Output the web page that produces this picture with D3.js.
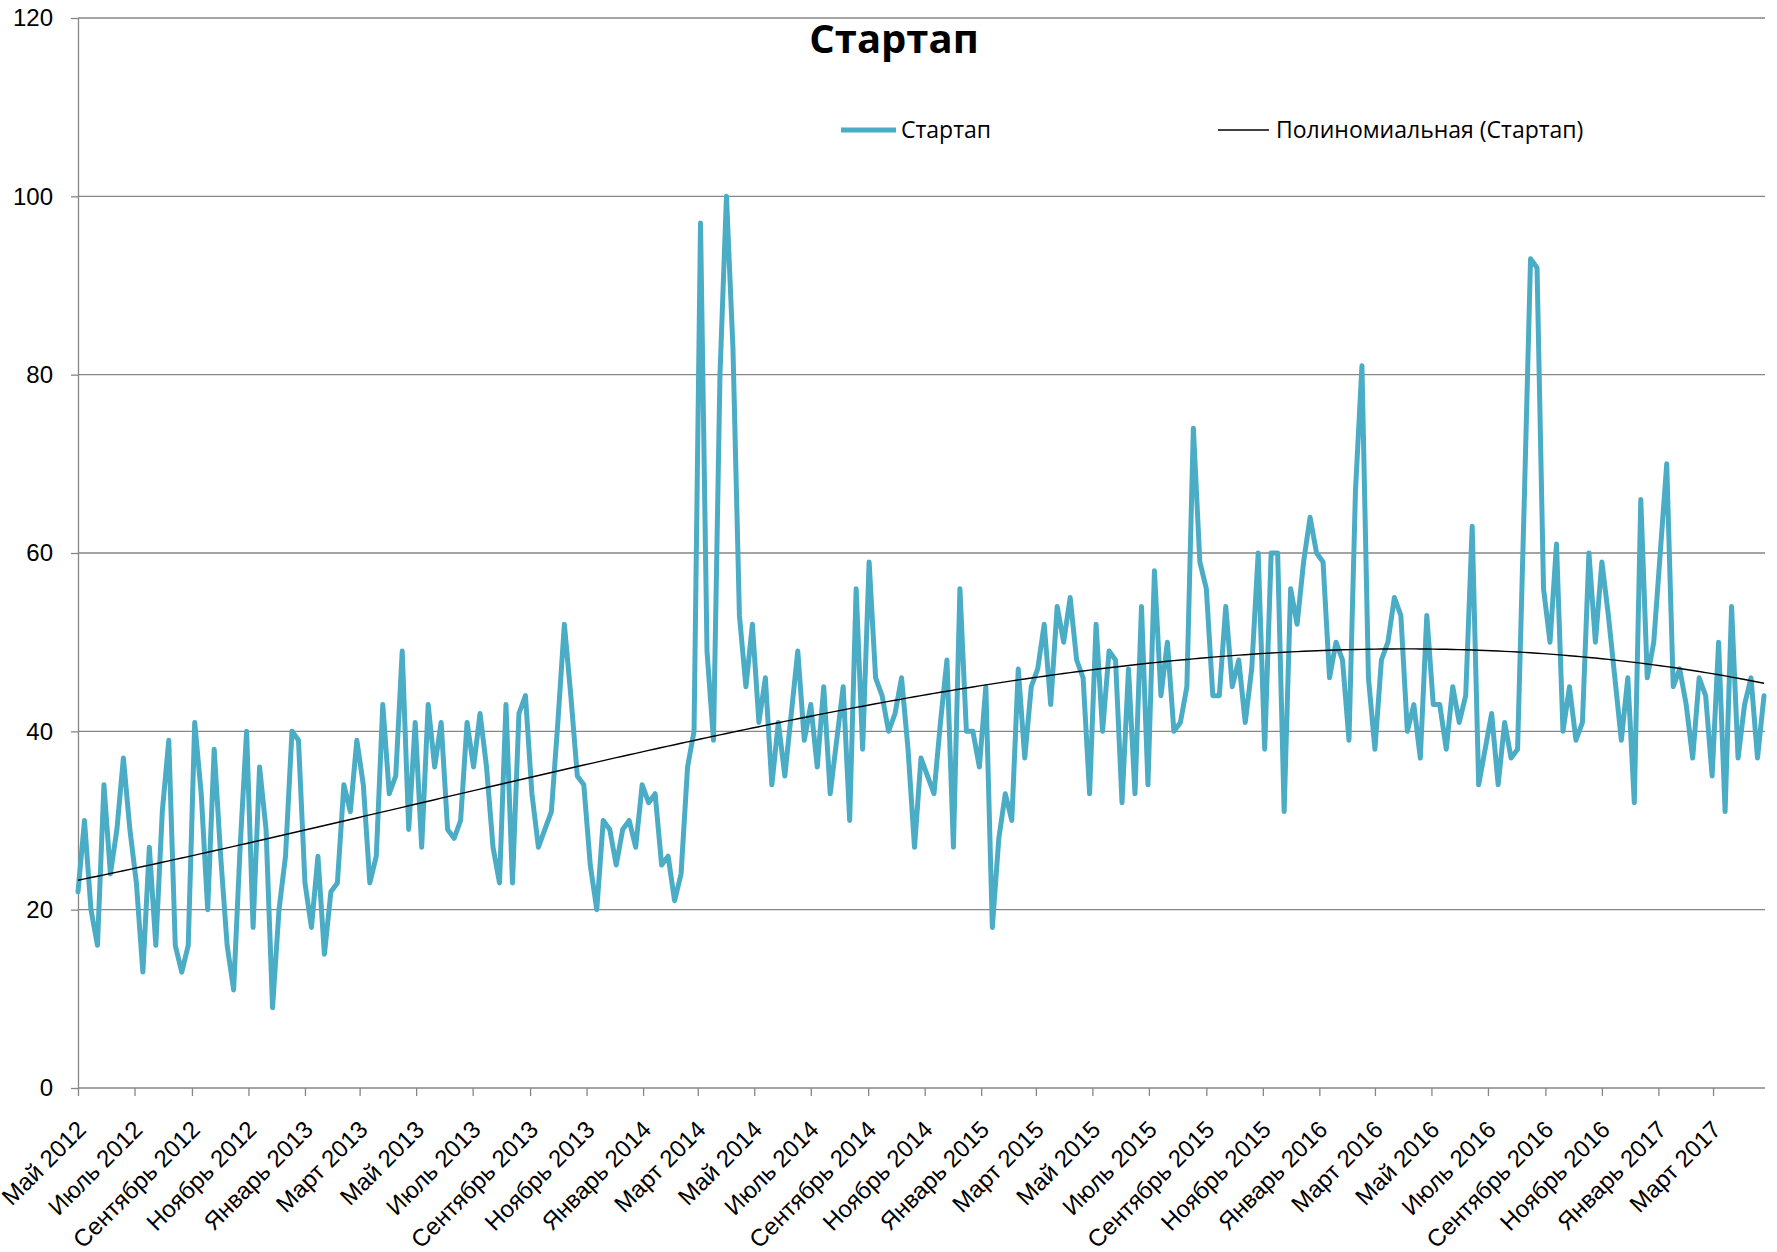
<!DOCTYPE html>
<html>
<head>
<meta charset="utf-8">
<script src="https://cdnjs.cloudflare.com/ajax/libs/d3/7.8.5/d3.min.js"></script>
<style>
  body { margin: 0; background: #fff; }
  svg { display: block; font-family: "Open Sans", sans-serif; }
</style>
</head>
<body>
<div id="chart"></div>
<script>
// weekly values, first week starts 2012-05-06
var startDate = "2012-05-06";
var values = [
  22, 30, 20, 16, 34, 24, 29, 37, 29, 23, 13, 27, 16, 31, 39, 16, 13, 16, 41, 33,
  20, 38, 26, 16, 11, 27, 40, 18, 36, 29, 9, 20, 26, 40, 39, 23, 18, 26, 15, 22,
  23, 34, 31, 39, 34, 23, 26, 43, 33, 35, 49, 29, 41, 27, 43, 36, 41, 29, 28, 30,
  41, 36, 42, 36, 27, 23, 43, 23, 42, 44, 33, 27, 29, 31, 41, 52, 44, 35, 34, 25,
  20, 30, 29, 25, 29, 30, 27, 34, 32, 33, 25, 26, 21, 24, 36, 40, 97, 49, 39, 80,
  100, 83, 53, 45, 52, 41, 46, 34, 41, 35, 42, 49, 39, 43, 36, 45, 33, 39, 45, 30,
  56, 38, 59, 46, 44, 40, 42, 46, 38, 27, 37, 35, 33, 41, 48, 27, 56, 40, 40, 36,
  45, 18, 28, 33, 30, 47, 37, 45, 47, 52, 43, 54, 50, 55, 48, 46, 33, 52, 40, 49,
  48, 32, 47, 33, 54, 34, 58, 44, 50, 40, 41, 45, 74, 59, 56, 44, 44, 54, 45, 48,
  41, 47, 60, 38, 60, 60, 31, 56, 52, 59, 64, 60, 59, 46, 50, 48, 39, 67, 81, 46,
  38, 48, 50, 55, 53, 40, 43, 37, 53, 43, 43, 38, 45, 41, 44, 63, 34, 38, 42, 34,
  41, 37, 38, 65, 93, 92, 56, 50, 61, 40, 45, 39, 41, 60, 50, 59, 53, 46, 39, 46,
  32, 66, 46, 50, 60, 70, 45, 47, 43, 37, 46, 44, 35, 50, 31, 54, 37, 43, 46, 37,
  44
];
var monthNames = ["Январь", "Февраль", "Март", "Апрель", "Май", "Июнь",
                  "Июль", "Август", "Сентябрь", "Октябрь", "Ноябрь", "Декабрь"];
var yTicks = [0, 20, 40, 60, 80, 100, 120];
var chartTitle = "Стартап";
var seriesName = "Стартап";
var trendName = "Полиномиальная (Стартап)";
var trendOrder = 3;

var width = 1777, height = 1252;
var plotLeft = 78, plotRight = 1764, plotTop = 18, plotBottom = 1088, gridEnd = 1765;

var ru = d3.timeFormatLocale({
  dateTime: "%A, %e %B %Y г. %X", date: "%d.%m.%Y", time: "%H:%M:%S",
  periods: ["AM", "PM"],
  days: ["воскресенье", "понедельник", "вторник", "среда", "четверг", "пятница", "суббота"],
  shortDays: ["вс", "пн", "вт", "ср", "чт", "пт", "сб"],
  months: monthNames,
  shortMonths: monthNames.map(function(m){ return m.slice(0, 3); })
});
var fmt = ru.format("%B %Y");

var start = d3.timeParse("%Y-%m-%d")(startDate);
var data = values.map(function(v, i){ return {date: d3.timeWeek.offset(start, i), value: v}; });
var last = data[data.length - 1].date;

var x = d3.scaleTime().domain([start, last]).range([plotLeft, plotRight]);
var y = d3.scaleLinear().domain([0, 120]).range([plotBottom, plotTop]);

var svg = d3.select("#chart").append("svg")
  .attr("width", width).attr("height", height);

// gridlines
svg.append("g").selectAll("line")
  .data(yTicks.filter(function(d){ return d > 0; }))
  .join("line")
    .attr("x1", plotLeft).attr("x2", gridEnd)
    .attr("y1", function(d){ return y(d); }).attr("y2", function(d){ return y(d); })
    .attr("stroke", "#868686").attr("stroke-width", 1.3);

// x axis, a tick every two months
var xTicks = d3.range(0, 40).map(function(k){ return d3.timeMonth.offset(start, 2 * k); })
  .filter(function(d){ return d <= last; });

var gx = svg.append("g")
  .attr("transform", "translate(0," + plotBottom + ")")
  .call(d3.axisBottom(x).tickValues(xTicks).tickFormat(fmt).tickSize(8).tickSizeOuter(0));
gx.select(".domain").attr("d", "M" + plotLeft + ",0H" + gridEnd);
gx.selectAll("line, .domain").attr("stroke", "#868686").attr("stroke-width", 1.3);
gx.selectAll("text")
  .attr("font-size", 24).attr("fill", "#000")
  .attr("text-anchor", "end")
  .attr("x", 0).attr("y", 0).attr("dy", 0)
  .attr("transform", "translate(9,43) rotate(-45)");

// y axis
var gy = svg.append("g")
  .attr("transform", "translate(" + plotLeft + ",0)")
  .call(d3.axisLeft(y).tickValues(yTicks).tickSize(7).tickPadding(18).tickSizeOuter(0));
gy.selectAll("line, .domain").attr("stroke", "#868686").attr("stroke-width", 1.3);
gy.selectAll("text").attr("font-size", 24).attr("fill", "#000");

// series line
var line = d3.line()
  .x(function(d){ return x(d.date); })
  .y(function(d){ return y(d.value); });

svg.append("path")
  .datum(data)
  .attr("fill", "none")
  .attr("stroke", "#4BACC6")
  .attr("stroke-width", 5)
  .attr("stroke-linejoin", "round")
  .attr("stroke-linecap", "round")
  .attr("d", line);

// polynomial trend (least squares)
function polyfit(xs, ys, order){
  var n = order + 1, A = [], i, j, k;
  for (i = 0; i < n; i++){
    A.push([]);
    for (j = 0; j <= n; j++) A[i].push(0);
  }
  xs.forEach(function(xv, p){
    for (i = 0; i < n; i++){
      for (j = 0; j < n; j++) A[i][j] += Math.pow(xv, i + j);
      A[i][n] += ys[p] * Math.pow(xv, i);
    }
  });
  for (i = 0; i < n; i++){
    var piv = i;
    for (k = i + 1; k < n; k++) if (Math.abs(A[k][i]) > Math.abs(A[piv][i])) piv = k;
    var tmp = A[i]; A[i] = A[piv]; A[piv] = tmp;
    for (k = i + 1; k < n; k++){
      var f = A[k][i] / A[i][i];
      for (j = i; j <= n; j++) A[k][j] -= f * A[i][j];
    }
  }
  var c = new Array(n);
  for (i = n - 1; i >= 0; i--){
    var s = A[i][n];
    for (j = i + 1; j < n; j++) s -= A[i][j] * c[j];
    c[i] = s / A[i][i];
  }
  return c;
}
var tx = data.map(function(d, i){ return i / (data.length - 1); });
var coef = polyfit(tx, values, trendOrder);
var trend = data.map(function(d, i){
  var t = tx[i], v = 0;
  coef.forEach(function(c, p){ v += c * Math.pow(t, p); });
  return {date: d.date, value: v};
});

svg.append("path")
  .datum(trend)
  .attr("fill", "none")
  .attr("stroke", "#000")
  .attr("stroke-width", 1.4)
  .attr("d", line);

// title
svg.append("text")
  .attr("x", 894).attr("y", 53)
  .attr("text-anchor", "middle")
  .attr("font-size", 40).attr("font-weight", "bold")
  .text(chartTitle);

// legend
var legend = svg.append("g");
legend.append("line")
  .attr("x1", 841).attr("x2", 896).attr("y1", 130).attr("y2", 130)
  .attr("stroke", "#4BACC6").attr("stroke-width", 5);
legend.append("text")
  .attr("x", 901).attr("y", 130).attr("dy", "0.35em")
  .attr("font-size", 23).text(seriesName);
legend.append("line")
  .attr("x1", 1218).attr("x2", 1269).attr("y1", 130).attr("y2", 130)
  .attr("stroke", "#000").attr("stroke-width", 1.4);
legend.append("text")
  .attr("x", 1276).attr("y", 130).attr("dy", "0.35em")
  .attr("font-size", 23).text(trendName);
</script>
</body>
</html>
